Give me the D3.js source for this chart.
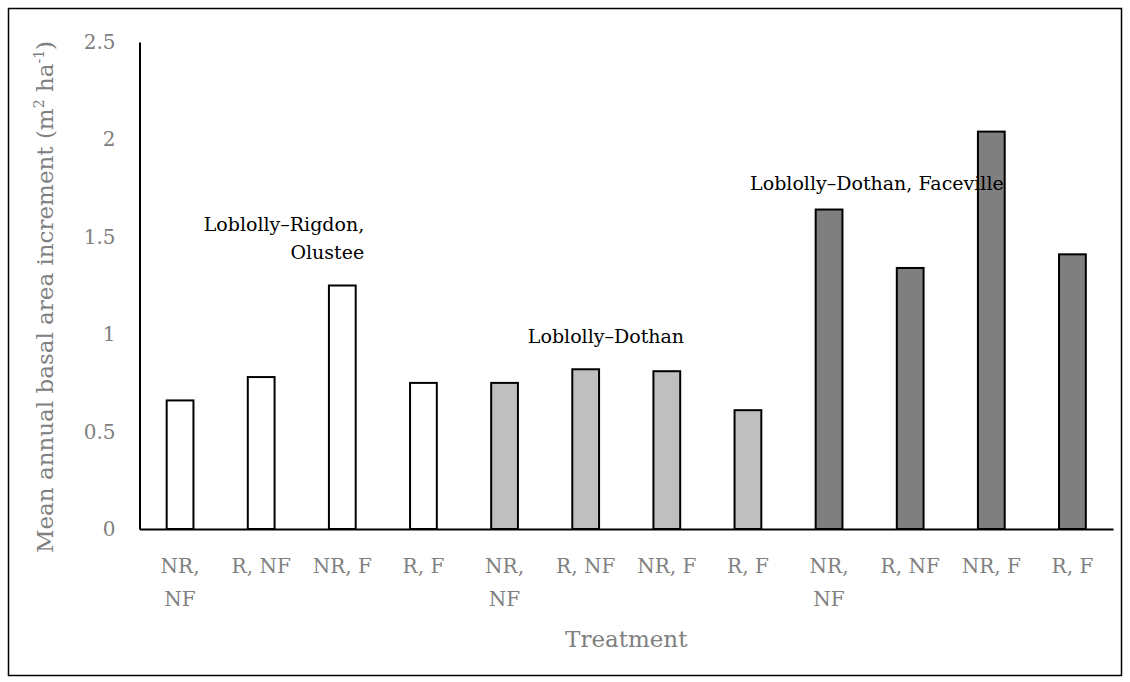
<!DOCTYPE html>
<html>
<head>
<meta charset="utf-8">
<script src="https://cdn.jsdelivr.net/npm/d3@7"></script>
<style>
  html, body { margin: 0; padding: 0; background: #fff; overflow: hidden; }
  svg { display: block; }
  text { font-family: "DejaVu Serif", serif; }
</style>
</head>
<body>
<svg></svg>
<script>
// Chart data
const treatments = ["NR, NF", "R, NF", "NR, F", "R, F",
                    "NR, NF", "R, NF", "NR, F", "R, F",
                    "NR, NF", "R, NF", "NR, F", "R, F"];
const increments = [0.66, 0.78, 1.25, 0.75, 0.75, 0.82, 0.81, 0.61, 1.64, 1.34, 2.04, 1.41];
const groups = [0, 0, 0, 0, 1, 1, 1, 1, 2, 2, 2, 2];
const groupFills = ["#ffffff", "#bfbfbf", "#7f7f7f"];
const yTicks = [0, 0.5, 1, 1.5, 2, 2.5];

// Annotation labels: position in category units and y value
const notes = [
  { lines: ["Loblolly–Rigdon,", "Olustee"], at: 2.77, y: 1.53, anchor: "end" },
  { lines: ["Loblolly–Dothan"], at: 5.75, y: 0.955, anchor: "middle" },
  { lines: ["Loblolly–Dothan, Faceville"], at: 9.09, y: 1.74, anchor: "middle" }
];

const width = 1130;
const height = 682;

const svg = d3.select("svg").attr("width", width).attr("height", height);

// outer frame
svg.append("rect")
  .attr("x", 8.5).attr("y", 8.5)
  .attr("width", 1113).attr("height", 667)
  .attr("fill", "none").attr("stroke", "#000").attr("stroke-width", 1.5);

const margin = { top: 42, right: 17, bottom: 153, left: 139.5 };
const plotBottom = height - margin.bottom;

const idx = d3.range(treatments.length);

// scales in page coordinates
const xScale = d3.scaleBand().domain(idx)
  .range([margin.left, width - margin.right])
  .paddingInner(0.67).paddingOuter(0.335);
const xPos = d3.scaleLinear().domain([0, treatments.length]).range([margin.left, width - margin.right]);
const yScale = d3.scaleLinear().domain([0, 2.5]).range([plotBottom, margin.top]);

// Y axis line
const yAxisG = svg.append("g")
  .attr("transform", `translate(${margin.left}, 0)`)
  .call(d3.axisLeft(yScale).tickValues(yTicks).tickSize(0).tickFormat(""));
yAxisG.select(".domain").attr("stroke", "#000").attr("stroke-width", 2);
yAxisG.selectAll(".tick").remove();

// Y tick labels
svg.selectAll("text.ytick")
  .data(yTicks)
  .enter()
  .append("text")
  .attr("class", "ytick")
  .attr("x", margin.left - 24)
  .attr("y", (d) => yScale(d) + 7)
  .attr("text-anchor", "end")
  .attr("fill", "#808080")
  .attr("font-size", 20)
  .text((d) => d);

// Bars
svg.selectAll("rect.bar")
  .data(idx)
  .enter()
  .append("rect")
  .attr("class", "bar")
  .attr("x", (i) => xScale(i))
  .attr("y", (i) => yScale(increments[i]))
  .attr("width", xScale.bandwidth())
  .attr("height", (i) => plotBottom - yScale(increments[i]))
  .attr("fill", (i) => groupFills[groups[i]])
  .attr("stroke", "#000")
  .attr("stroke-width", 2);

// X axis line
const xAxisG = svg.append("g")
  .attr("transform", `translate(0, ${plotBottom})`)
  .call(d3.axisBottom(xScale).tickSize(0).tickFormat(""));
xAxisG.select(".domain").attr("stroke", "#000").attr("stroke-width", 2);
xAxisG.selectAll(".tick").remove();

// X tick labels, wrapped like the original
const xLines = [];
idx.forEach((i) => {
  const label = treatments[i];
  const parts = label.length > 5 ? label.split(" ") : [label];
  parts.forEach((ln, k) => xLines.push({ i, k, ln }));
});
svg.selectAll("text.xtick")
  .data(xLines)
  .enter()
  .append("text")
  .attr("class", "xtick")
  .attr("x", (d) => xScale(d.i) + xScale.bandwidth() / 2)
  .attr("y", (d) => plotBottom + 44 + d.k * 33)
  .attr("text-anchor", "middle")
  .attr("fill", "#808080")
  .attr("font-size", 20)
  .text((d) => d.ln);

// Axis titles
svg.append("text")
  .attr("x", (margin.left + width - margin.right) / 2)
  .attr("y", plotBottom + 118)
  .attr("text-anchor", "middle")
  .attr("fill", "#808080").attr("font-size", 23)
  .text("Treatment");

const yTitle = svg.append("text")
  .attr("transform", "translate(53, 297) rotate(-90)")
  .attr("text-anchor", "middle")
  .attr("fill", "#808080").attr("font-size", 23);
yTitle.append("tspan").text("Mean annual basal area increment (m");
yTitle.append("tspan").attr("font-size", 14).attr("dy", -9).text("2");
yTitle.append("tspan").attr("dy", 9).text(" ha");
yTitle.append("tspan").attr("font-size", 14).attr("dy", -9).text("-1");
yTitle.append("tspan").attr("dy", 9).text(")");

// Site annotations
notes.forEach((n) => {
  n.lines.forEach((ln, k) => {
    svg.append("text")
      .attr("x", xPos(n.at))
      .attr("y", yScale(n.y) + k * 28)
      .attr("text-anchor", n.anchor)
      .attr("fill", "#000").attr("font-size", 19)
      .text(ln);
  });
});
</script>
</body>
</html>
